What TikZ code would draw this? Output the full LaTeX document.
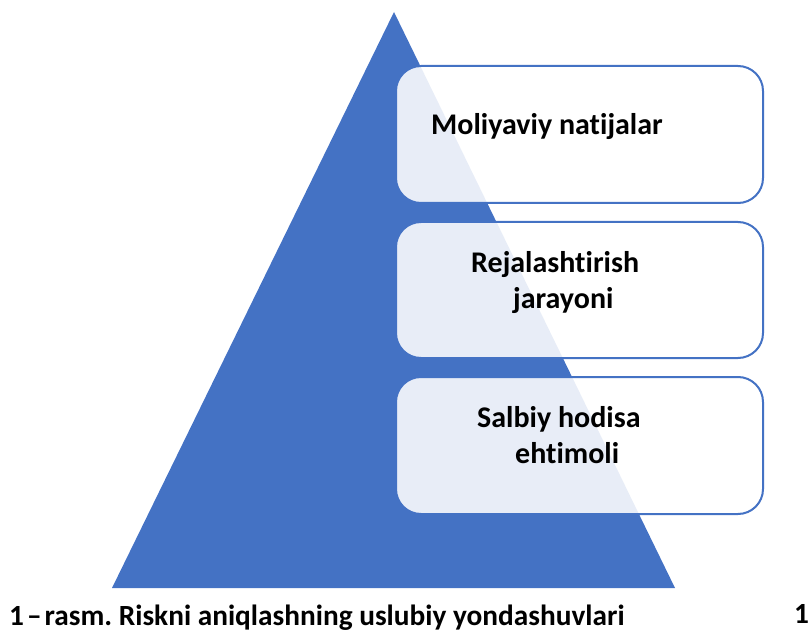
\documentclass[tikz,border=0pt]{standalone}
\usepackage{fontspec}
\setmainfont{Carlito}[Ligatures={NoCommon}]
\definecolor{tblue}{HTML}{4472C4}
\frenchspacing
\begin{document}
\begin{tikzpicture}[x=1pt,y=-1pt,
  box/.style={draw=tblue, line width=2pt, rounded corners=25pt, fill=white, fill opacity=0.88},
  lbl/.style={anchor=base west, inner sep=0pt, font=\fontsize{30}{36}\selectfont\bfseries, text=black},
  captext/.style={anchor=base west, inner sep=0pt, font=\fontsize{29.3}{34}\selectfont\bfseries, text=black}]
\useasboundingbox (0,0) rectangle (811,631);
\fill[tblue] (394,12) coordinate (apex) -- (675,588) coordinate (br) -- (112,588) coordinate (bl) -- cycle;
\draw[box] (396,66) coordinate (b1) rectangle (763,203);
\draw[box] (396,222) coordinate (b2) rectangle (763,358);
\draw[box] (396,377) coordinate (b3) rectangle (763,514);
\node[lbl] (t1) at (431,135) {Moliyaviy natijalar};
\node[lbl] (t2a) at (471,272) {Rejalashtirish};
\node[lbl] (t2b) at (513,308) {jarayoni};
\node[lbl] (t3a) at (477,427) {Salbiy hodisa};
\node[lbl] (t3b) at (515,463) {ehtimoli};
\node[captext] (capt) at (9,625) {1\kern3pt–\kern3pt rasm. Riskni aniqlashning uslubiy yondashuvlari};
\node[captext] (pg) at (794,623) {1};
\end{tikzpicture}
\end{document}
